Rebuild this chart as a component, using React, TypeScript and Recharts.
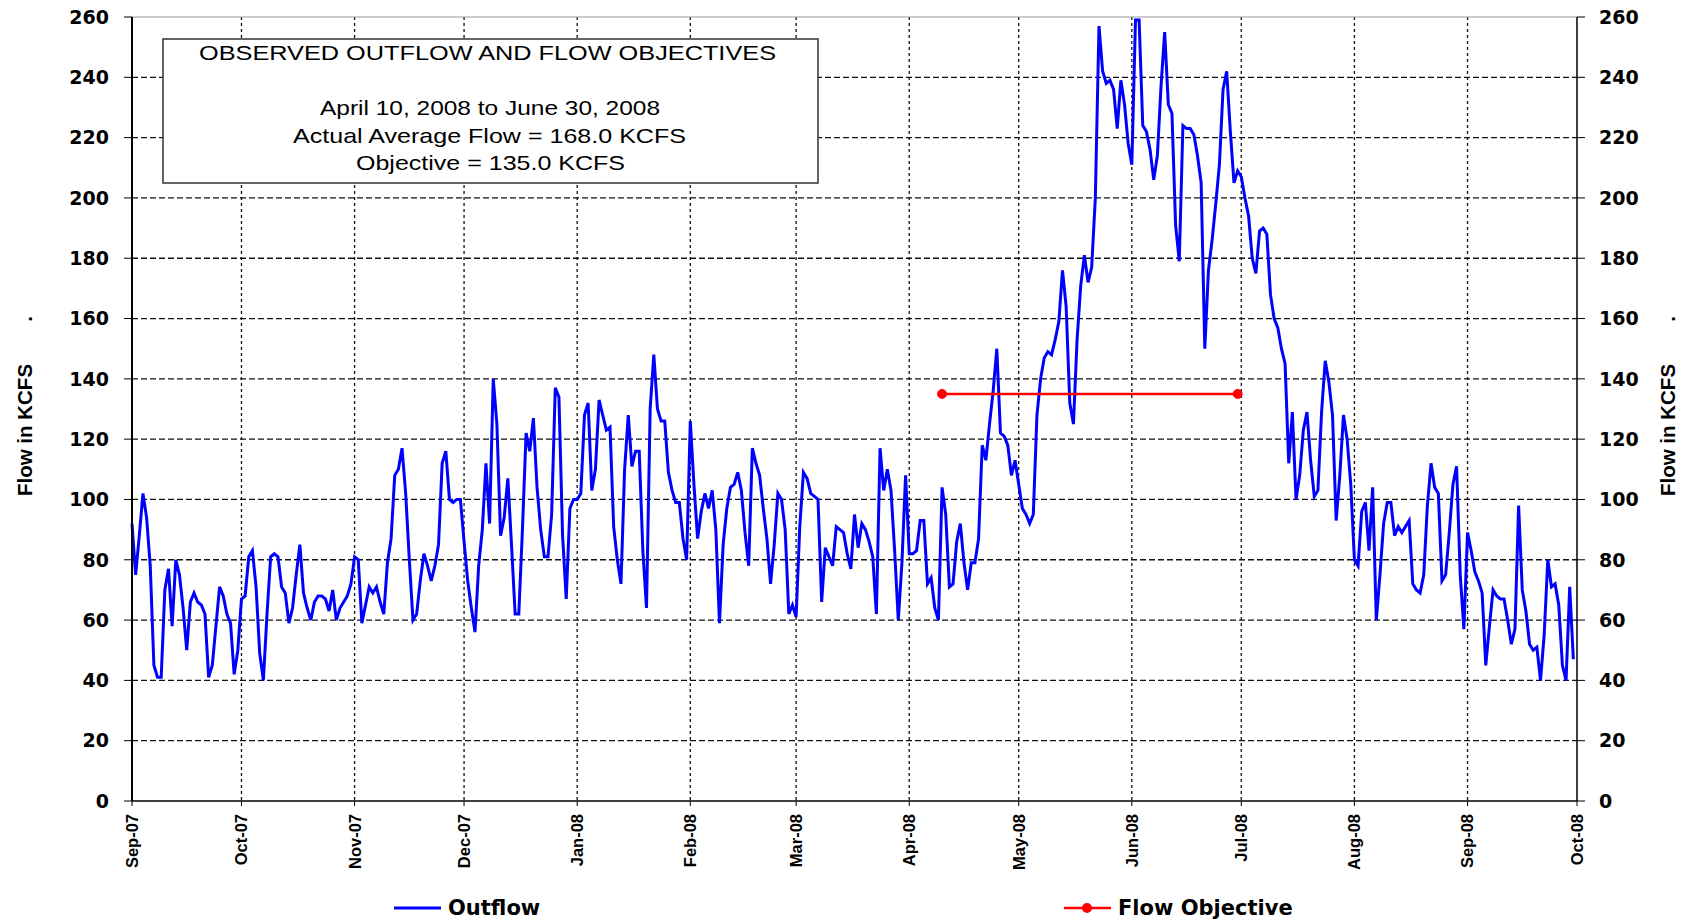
import { CartesianGrid, Line, LineChart, ReferenceLine, XAxis, YAxis } from "recharts";

// day index 0 = 1 Sep 2007, one value per day to 30 Sep 2008
const monthTicks = [0, 30, 61, 91, 122, 153, 182, 213, 243, 274, 304, 335, 366, 396];
const monthLabels = [
  "Sep-07", "Oct-07", "Nov-07", "Dec-07", "Jan-08", "Feb-08", "Mar-08",
  "Apr-08", "May-08", "Jun-08", "Jul-08", "Aug-08", "Sep-08", "Oct-08",
];
const flowTicks = [0, 20, 40, 60, 80, 100, 120, 140, 160, 180, 200, 220, 240, 260];
const gridFlows = [20, 40, 60, 80, 100, 120, 140, 160, 180, 200, 220, 240];

// daily outflow, KCFS
const outflow = [
  92, 75, 88, 102, 94, 78, 45, 41, 41, 70,
  77, 58, 80, 75, 64, 50, 66, 69, 66, 65,
  62, 41, 45, 58, 71, 68, 62, 59, 42, 50,
  67, 68, 81, 83, 71, 49, 40, 62, 81, 82,
  81, 71, 69, 59, 64, 75, 85, 69, 64, 60,
  66, 68, 68, 67, 63, 70, 60, 64, 66, 68,
  72, 81, 80, 59, 65, 71, 69, 71, 66, 62,
  79, 87, 108, 110, 117, 102, 80, 60, 62, 73,
  82, 78, 73, 78, 85, 112, 116, 100, 99, 100,
  100, 86, 73, 64, 56, 78, 90, 112, 92, 140,
  125, 88, 94, 107, 85, 62, 62, 90, 122, 116,
  127, 104, 90, 81, 81, 95, 137, 134, 88, 67,
  97, 100, 100, 102, 128, 132, 103, 110, 133, 128,
  123, 124, 91, 80, 72, 110, 128, 111, 116, 116,
  83, 64, 130, 148, 130, 126, 126, 109, 103, 99,
  99, 87, 80, 126, 105, 87, 96, 102, 97, 103,
  90, 59, 85, 97, 104, 105, 109, 103, 89, 78,
  117, 112, 108, 97, 87, 72, 85, 102, 100, 90,
  62, 65, 61, 91, 109, 107, 102, 101, 100, 66,
  84, 81, 78, 91, 90, 89, 82, 77, 95, 84,
  92, 90, 86, 81, 62, 117, 103, 110, 103, 83,
  60, 79, 108, 82, 82, 83, 93, 93, 72, 74,
  64, 60, 104, 95, 71, 72, 86, 92, 79, 70,
  79, 79, 87, 118, 113, 125, 136, 150, 122, 121,
  118, 108, 113, 105, 97, 95, 92, 95, 128, 140,
  147, 149, 148, 153, 159, 176, 164, 132, 125, 153,
  171, 181, 172, 177, 200, 257, 242, 238, 239, 236,
  223, 239, 231, 218, 211, 259, 259, 224, 222, 216,
  206, 214, 237, 255, 231, 228, 191, 179, 224, 223,
  223, 221, 214, 205, 150, 176, 186, 198, 211, 236,
  242, 222, 205, 209, 207, 200, 194, 180, 175, 189,
  190, 188, 168, 160, 157, 150, 145, 112, 129, 100,
  108, 123, 129, 113, 101, 103, 129, 146, 139, 128,
  93, 108, 128, 120, 105, 80, 78, 96, 99, 83,
  104, 60, 75, 92, 99, 99, 88, 91, 89, 91,
  93, 72, 70, 69, 75, 98, 112, 104, 102, 73,
  75, 89, 105, 111, 75, 57, 89, 83, 76, 73,
  69, 45, 58, 70, 68, 67, 67, 60, 52, 57,
  98, 70, 63, 52, 50, 51, 40, 55, 80, 71,
  72, 65, 45, 40, 71, 47,
];

// April 10 and June 30, 2008
const objectiveDays = [222, 303];
const objectiveFlow = [135, 135];

const chartData = outflow.map((v, i) => {
  const j = objectiveDays.indexOf(i);
  return { day: i, outflow: v, objective: j >= 0 ? objectiveFlow[j] : null };
});

const boldSans = "'Liberation Sans', Arial, sans-serif";
const wideBold = "'DejaVu Sans', sans-serif";

function MonthTick({ x, y, payload }: any) {
  const label = monthLabels[monthTicks.indexOf(payload.value)];
  return (
    <text
      transform={`translate(${x},${y + 6}) rotate(-90)`}
      textAnchor="end"
      dy="0.36em"
      fontFamily={boldSans}
      fontWeight="bold"
      fontSize={16.5}
      fill="#000"
    >
      {label}
    </text>
  );
}

const yTick = { fill: "#000", fontSize: 19, fontWeight: "bold", fontFamily: wideBold };

function AxisTitle({ x }: { x: number }) {
  return (
    <g fontFamily={boldSans} fontWeight="bold" fontSize={20.5} fill="#000">
      <text transform={`translate(${x},430) rotate(-90)`} textAnchor="middle">
        Flow in KCFS
      </text>
      <text transform={`translate(${x},319) rotate(-90)`} textAnchor="middle">
        .
      </text>
    </g>
  );
}

export default function App() {
  return (
    <div style={{ position: "absolute", left: 0, top: 0, width: 1686, height: 922, background: "#fff" }}>
      <LineChart width={1686} height={922} data={chartData} margin={{ top: 17, right: 0, bottom: 0, left: 0 }}>
        <CartesianGrid
          vertical={false}
          horizontalValues={gridFlows}
          stroke="#111"
          strokeWidth={1.3}
          strokeDasharray="6 3"
        />
        <CartesianGrid
          horizontal={false}
          verticalValues={monthTicks.slice(1, -1)}
          stroke="#111"
          strokeWidth={1.3}
          strokeDasharray="3 3"
        />
        <ReferenceLine y={260} stroke="#999" strokeWidth={1} />
        <XAxis
          dataKey="day"
          type="number"
          domain={[0, 396]}
          ticks={monthTicks}
          interval={0}
          height={121}
          tickSize={5}
          tick={<MonthTick />}
          axisLine={{ stroke: "#000", strokeWidth: 1.5 }}
          tickLine={{ stroke: "#000" }}
        />
        <YAxis
          domain={[0, 260]}
          ticks={flowTicks}
          interval={0}
          width={132}
          tickSize={8}
          tickMargin={15}
          tick={yTick}
          axisLine={{ stroke: "#000", strokeWidth: 2 }}
          tickLine={{ stroke: "#000" }}
        />
        <YAxis
          yAxisId="right"
          orientation="right"
          domain={[0, 260]}
          ticks={flowTicks}
          interval={0}
          width={109}
          tickSize={8}
          tickMargin={14}
          tick={yTick}
          axisLine={{ stroke: "#000", strokeWidth: 1.5 }}
          tickLine={{ stroke: "#000" }}
        />
        <Line
          dataKey="outflow"
          type="linear"
          stroke="#0000FF"
          strokeWidth={3}
          dot={false}
          isAnimationActive={false}
        />
        <Line
          dataKey="objective"
          yAxisId="right"
          type="linear"
          stroke="#FF0000"
          strokeWidth={2.5}
          connectNulls
          dot={{ r: 4.5, fill: "#FF0000", stroke: "#FF0000", strokeWidth: 1 }}
          isAnimationActive={false}
        />
      </LineChart>

      <svg width={1686} height={922} style={{ position: "absolute", left: 0, top: 0, pointerEvents: "none" }}>
        <rect x={163} y={39} width={655} height={144} fill="#fff" stroke="#333" strokeWidth={1.5} />
        <g fontFamily={boldSans} fontSize={21} fill="#000">
          <text x={199} y={60} textLength={577} lengthAdjust="spacingAndGlyphs">
            OBSERVED OUTFLOW AND FLOW OBJECTIVES
          </text>
          <text x={320} y={115} textLength={340} lengthAdjust="spacingAndGlyphs">
            April 10, 2008 to June 30, 2008
          </text>
          <text x={293} y={143} textLength={393} lengthAdjust="spacingAndGlyphs">
            Actual Average Flow = 168.0 KCFS
          </text>
          <text x={356} y={170} textLength={269} lengthAdjust="spacingAndGlyphs">
            Objective = 135.0 KCFS
          </text>
        </g>

        <AxisTitle x={32} />
        <AxisTitle x={1675} />

        <g fontFamily={wideBold} fontWeight="bold" fontSize={21} fill="#000">
          <line x1={394} x2={441} y1={908} y2={908} stroke="#0000FF" strokeWidth={3} />
          <text x={448} y={915}>Outflow</text>
          <line x1={1064} x2={1111} y1={908} y2={908} stroke="#FF0000" strokeWidth={2.5} />
          <circle cx={1087} cy={908} r={5} fill="#FF0000" />
          <text x={1118} y={915}>Flow Objective</text>
        </g>
      </svg>
    </div>
  );
}
